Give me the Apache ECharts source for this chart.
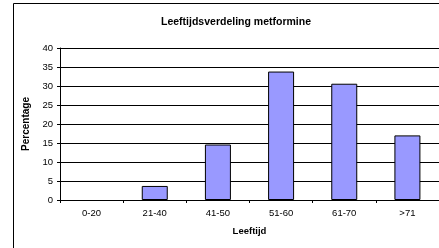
<!DOCTYPE html>
<html><head><meta charset="utf-8">
<style>html,body{margin:0;padding:0;background:#fff}#c{width:439px;height:248px}</style>
<script src="https://cdn.jsdelivr.net/npm/echarts@6/dist/echarts.min.js"></script>
</head><body><div id="c"></div>
<script>
const categories = ['0-20','21-40','41-50','51-60','61-70','>71'];
const percentages = [0, 3.7, 14.6, 33.8, 30.6, 17.0];
const yTicks = [0,5,10,15,20,25,30,35,40];
const chart = echarts.init(document.getElementById('c'), null, {renderer:'canvas'});
const font = 'Liberation Sans, Arial, sans-serif';
chart.setOption({
  animation:false,
  graphic:[{type:'rect',shape:{x:13.5,y:3.5,width:600,height:400},style:{fill:'none',stroke:'#000',lineWidth:1},z:-1}],
  title:{text:'Leeftijdsverdeling metformine',left:231,top:12,textAlign:'center',
    textStyle:{fontFamily:font,fontSize:10.5,fontWeight:'bold',color:'#000'}},
  grid:{left:60,top:48,bottom:48,right:-2},
  xAxis:{type:'category',data:categories,name:'Leeftijd',nameLocation:'middle',nameGap:26,
    nameTextStyle:{fontFamily:font,fontSize:9.5,fontWeight:'bold',color:'#000'},
    axisLine:{lineStyle:{color:'#000',width:1}},
    axisTick:{show:true,length:3,lineStyle:{color:'#000'}},
    axisLabel:{fontFamily:font,fontSize:9.5,color:'#000',margin:8},
    splitLine:{show:false}},
  yAxis:{type:'value',min:0,max:40,interval:5,name:'Percentage',nameLocation:'middle',nameGap:21,nameRotate:90,
    nameTextStyle:{fontFamily:font,fontSize:10,fontWeight:'bold',color:'#000'},
    axisLine:{show:true,lineStyle:{color:'#000',width:1}},
    axisTick:{show:true,length:3,lineStyle:{color:'#000'}},
    axisLabel:{fontFamily:font,fontSize:9.5,color:'#000',margin:7,
      formatter:v=>yTicks.includes(v)?String(v):''},
    splitLine:{show:true,lineStyle:{color:'#000',width:1}}},
  series:[{type:'bar',barWidth:26,
    data:percentages.map(v=>v===0?{value:v,itemStyle:{borderWidth:0}}:v),
    itemStyle:{color:'#9999ff',borderColor:'#000',borderWidth:1}}]
});
</script></body></html>
